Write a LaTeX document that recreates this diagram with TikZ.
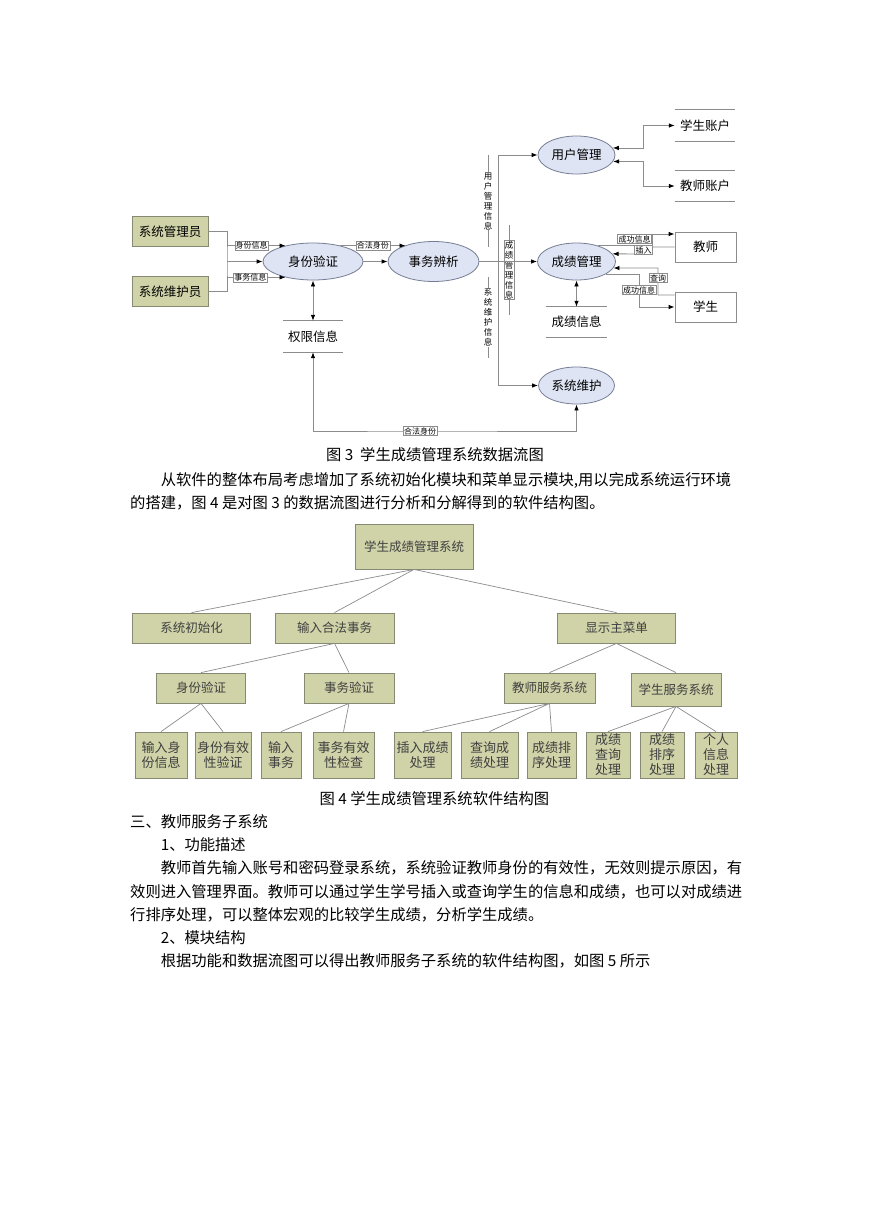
\documentclass[tikz,border=0pt]{standalone}
\usepackage{fontspec}
\newfontfamily\cjk{Noto Sans CJK SC}
\usepackage{tikz}
\usetikzlibrary{arrows.meta,positioning,shapes.geometric}
\definecolor{olivefill}{RGB}{208,210,168}
\definecolor{oliveedge}{RGB}{135,138,115}
\definecolor{ovalfill}{RGB}{222,228,243}
\definecolor{ovaledge}{RGB}{118,126,148}
\definecolor{wiregray}{RGB}{140,140,140}
\tikzset{
  actor/.style={rectangle, draw=oliveedge, fill=olivefill, line width=0.8pt,
                minimum width=76pt, minimum height=30pt, inner sep=1pt,
                font=\cjk\fontsize{12.5}{14}\selectfont},
  proc/.style={ellipse, draw=ovaledge, fill=ovalfill, line width=0.8pt, inner sep=0pt,
               font=\cjk\fontsize{12.5}{14}\selectfont},
  store/.style={rectangle, minimum width=60pt, inner sep=0pt,
                font=\cjk\fontsize{12.5}{14}\selectfont},
  ext/.style={rectangle, draw=wiregray, fill=white, line width=0.8pt,
              minimum width=61pt, minimum height=30pt,
              font=\cjk\fontsize{12.5}{14}\selectfont},
  dfline/.style={draw=wiregray, line width=0.8pt},
  flow/.style={dfline, ->},
  bflow/.style={dfline, <->},
  flowlabel/.style={fill=white, draw=wiregray, line width=0.5pt, inner sep=0.8pt,
                    font=\cjk\fontsize{8}{9}\selectfont},
  vlabel/.style={flowlabel, align=center, font=\cjk\fontsize{8.5}{10}\selectfont},
  module/.style={rectangle, draw=oliveedge, fill=olivefill, line width=0.8pt,
                 align=center, inner sep=1pt, text=black!75,
                 font=\cjk\fontsize{12.5}{15}\selectfont},
  leaf/.style={module, minimum height=46pt, font=\cjk\fontsize{13}{15}\selectfont},
  tree/.style={draw=wiregray, line width=0.7pt},
  bodytext/.style={inner sep=0pt, align=left, font=\cjk\fontsize{15.3}{23.2}\selectfont},
}

\begin{document}
\begin{tikzpicture}[x=1pt, y=-1pt, >={Latex[length=6pt,width=4.5pt,color=black]}]
\path[use as bounding box, fill=white] (0,0) rectangle (869,1228);

% data flow diagram
\node[actor] (admin) at (170,231.5) {系统管理员};
\node[actor] (maint) at (170,291.5) {系统维护员};
\node[proc, minimum width=100pt, minimum height=37pt] (auth) at (313,261.5) {身份验证};
\node[proc, minimum width=91pt, minimum height=40pt] (parse) at (433.5,261.5) {事务辨析};
\node[store, minimum height=31pt] (perm) at (313,336.5) {权限信息};
\node[proc, minimum width=77pt, minimum height=38pt] (usr) at (576.5,155) {用户管理};
\node[proc, minimum width=78pt, minimum height=37pt] (score) at (576.5,261.5) {成绩管理};
\node[proc, minimum width=76pt, minimum height=37pt] (sysm) at (576.5,385.5) {系统维护};
\node[store, minimum height=31pt] (stuacc) at (705,125.5) {学生账户};
\node[store, minimum height=30pt] (teaacc) at (705,186) {教师账户};
\node[ext] (teacher) at (705.5,247) {教师};
\node[ext] (student) at (705.5,307) {学生};
\node[store, minimum height=30pt] (gradestore) at (576.5,322) {成绩信息};

\coordinate (jn) at (227,261.5);
\coordinate (tr) at (498,261.5);
\coordinate (ua) at (643,125.5);
\coordinate (ub) at (643,186);
\coordinate (tc) at (652,234);
\coordinate (ti) at (652,254);
\coordinate (qa) at (658,295);
\coordinate (qb) at (658,268);
\coordinate (sb) at (639,307);
\coordinate (lb) at (420,431);

% stores: two lines
\draw[dfline] (perm.north west) -- (perm.north east) (perm.south west) -- (perm.south east);
\draw[dfline] (stuacc.north west) -- (stuacc.north east) (stuacc.south west) -- (stuacc.south east);
\draw[dfline] (teaacc.north west) -- (teaacc.north east) (teaacc.south west) -- (teaacc.south east);
\draw[dfline] (gradestore.north west) -- (gradestore.north east) (gradestore.south west) -- (gradestore.south east);

% left part
\draw[dfline] (admin.east) -| (jn) |- (maint.east);
\draw[flow] (auth.150 -| jn) -- (auth.150) node[flowlabel, pos=0.42] {身份信息};
\draw[flow] (jn) -- (auth);
\draw[flow] (auth.210 -| jn) -- (auth.210) node[flowlabel, pos=0.4] {事务信息};
\draw[flow] (auth) -- (parse);
\draw[flow] (auth.30) -- (auth.30 -| parse.150) node[flowlabel, pos=0.5] {合法身份};
\draw[bflow] (auth) -- (perm);
\draw[bflow] (perm.south) |- (lb) node[flowlabel] {合法身份} -| (sysm.south);

% annotations along the trunk
\coordinate (ma) at (488,155);
\coordinate (mb) at (488,247);
\coordinate (mc) at (488,277);
\coordinate (md) at (488,358);
\coordinate (me) at (509,225);
\coordinate (mf) at (509,315);
\draw[dfline] (ma) -- (mb) node[vlabel, draw=none, midway] {用\\户\\管\\理\\信\\息};
\draw[dfline] (mc) -- (md) node[vlabel, draw=none, midway] {系\\统\\维\\护\\信\\息};
\draw[dfline] (me) -- (mf) node[vlabel, midway] {成\\绩\\管\\理\\信\\息};

% right part
\draw[flow] (parse) -- (score);
\draw[flow] (tr) |- (usr);
\draw[flow] (tr) |- (sysm);
\draw[bflow] (usr.11) -| (ua) -- (stuacc);
\draw[bflow] (usr.-10) -| (ub) -- (teaacc);
\draw[flow] (score.36) -| (tc) -- (tc -| teacher.west);
\node[flowlabel] (okt) at (634.5,239) {成功信息};
\draw[flow] (teacher.west) -| (ti) -- (score.12);
\node[flowlabel] (insl) at (643.5,250) {插入};
\draw[flow] (qa -| student.west) -- (qa) -- (qb) -- (score.-10);
\node[flowlabel] (qryl) at (658,278) {查询};
\draw[flow] (score.-23) -| (sb) -- (student);
\node[flowlabel] (oks) at (639,290) {成功信息};
\draw[bflow] (score) -- (gradestore);

% captions and text
\node[bodytext] (cap3) at (435,455) {图 3\ \ 学生成绩管理系统数据流图};
\node[bodytext, anchor=west] (para) at (130,491.5)
  {\hspace*{30.6pt}从软件的整体布局考虑增加了系统初始化模块和菜单显示模块,用以完成系统运行环境\\
   的搭建，图 4 是对图 3 的数据流图进行分析和分解得到的软件结构图。};

% structure chart
\node[module, minimum width=118pt, minimum height=45pt] (root) at (414,546.5) {学生成绩管理系统};
\node[module, minimum width=118pt, minimum height=30pt] (init) at (191.5,628) {系统初始化};
\node[module, minimum width=119pt, minimum height=30pt] (input) at (334.5,628) {输入合法事务};
\node[module, minimum width=118pt, minimum height=30pt] (menu) at (616.5,628) {显示主菜单};
\node[module, minimum width=89pt, minimum height=30pt] (ident) at (201,688) {身份验证};
\node[module, minimum width=90pt, minimum height=30pt] (trans) at (349,688) {事务验证};
\node[module, minimum width=91pt, minimum height=30pt] (tsvc) at (549.5,688) {教师服务系统};
\node[module, minimum width=90pt, minimum height=33pt] (ssvc) at (676,689.5) {学生服务系统};
\node[leaf, minimum width=52pt] (inid) at (161,755) {输入身\\份信息};
\node[leaf, minimum width=56pt] (idchk) at (223,755) {身份有效\\性验证};
\node[leaf, minimum width=40pt] (intr) at (281,755) {输入\\事务};
\node[leaf, minimum width=61pt] (trchk) at (343.5,755) {事务有效\\性检查};
\node[leaf, minimum width=57pt] (ins) at (422.5,755) {插入成绩\\处理};
\node[leaf, minimum width=57pt] (qry) at (489.5,755) {查询成\\绩处理};
\node[leaf, minimum width=49pt] (srt) at (551.5,755) {成绩排\\序处理};
\node[leaf, minimum width=44pt] (sqry) at (608,755) {成绩\\查询\\处理};
\node[leaf, minimum width=44pt] (ssrt) at (662,755) {成绩\\排序\\处理};
\node[leaf, minimum width=42pt] (pinfo) at (716,755) {个人\\信息\\处理};

\draw[tree] (root.south) -- (init.north) (root.south) -- (input.north) (root.south) -- (menu.north);
\draw[tree] (input.south) -- (ident.north) (input.south) -- (trans.north);
\draw[tree] (menu.south) -- (tsvc.north) (menu.south) -- (ssvc.north);
\draw[tree] (ident.south) -- (inid.north) (ident.south) -- (idchk.north);
\draw[tree] (trans.south) -- (intr.north) (trans.south) -- (trchk.north);
\draw[tree] (tsvc.south) -- (ins.north) (tsvc.south) -- (qry.north) (tsvc.south) -- (srt.north);
\draw[tree] (ssvc.south) -- (sqry.north) (ssvc.south) -- (ssrt.north) (ssvc.south) -- (pinfo.north);

\node[bodytext] (cap4) at (434.5,799) {图 4 学生成绩管理系统软件结构图};
\node[bodytext, anchor=west] (sect) at (130,891.5)
  {三、教师服务子系统\\
   \hspace*{30.6pt}1、功能描述\\
   \hspace*{30.6pt}教师首先输入账号和密码登录系统，系统验证教师身份的有效性，无效则提示原因，有\\
   效则进入管理界面。教师可以通过学生学号插入或查询学生的信息和成绩，也可以对成绩进\\
   行排序处理，可以整体宏观的比较学生成绩，分析学生成绩。\\
   \hspace*{30.6pt}2、模块结构\\
   \hspace*{30.6pt}根据功能和数据流图可以得出教师服务子系统的软件结构图，如图 5 所示};
\end{tikzpicture}
\end{document}
